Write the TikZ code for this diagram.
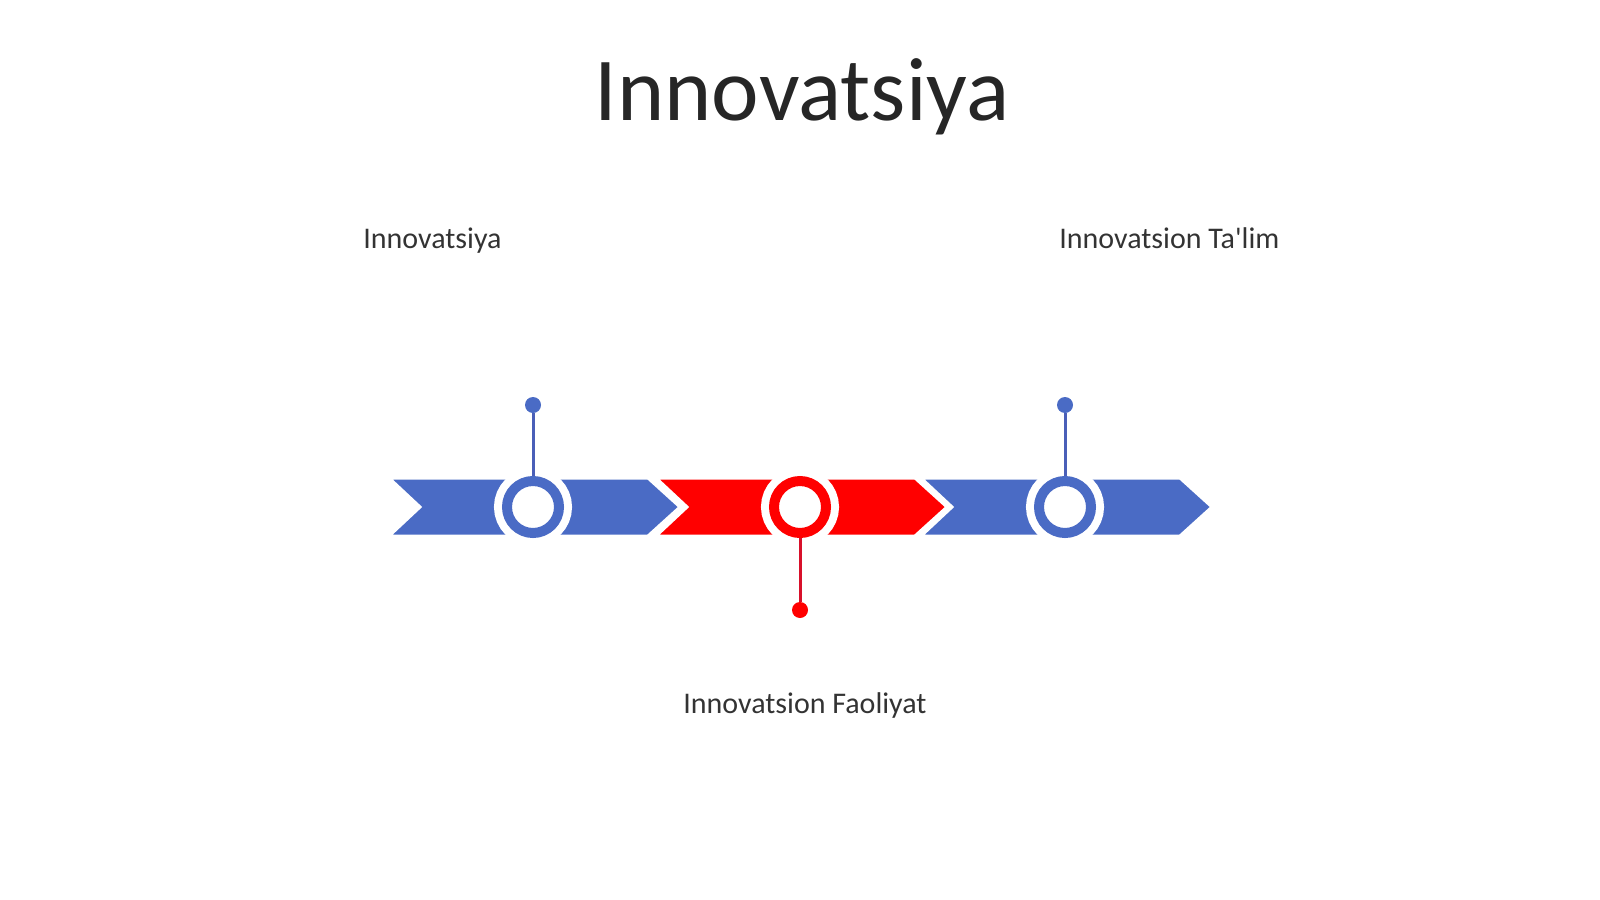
\documentclass[tikz,border=0pt]{standalone}
\usepackage{fontspec}
\setmainfont{Carlito}
\usetikzlibrary{positioning}
\definecolor{stepBlue}{HTML}{4A6BC5}
\definecolor{stepRed}{HTML}{FF0000}
\definecolor{pinBlue}{HTML}{4A5FB8}
\definecolor{pinRed}{HTML}{D8102A}
\definecolor{textGrey}{HTML}{333333}
\definecolor{titleGrey}{HTML}{262626}

\begin{document}
\begin{tikzpicture}
[x=0.5pt,y=-0.5pt,
  chevronShape/.style={draw=white,line width=1.5pt,line join=miter},%
  ringNode/.style={circle,inner sep=0pt,minimum size=26pt,fill=white,
    line width=5pt,preaction={draw=white,line width=13pt}},%
  pinDot/.style={circle,inner sep=0pt,minimum size=8pt},%
  pinLine/.style={-,line width=1.5pt},%
  labelText/.style={inner sep=0pt,text=textGrey,font=\fontsize{15}{18}\selectfont}]
\useasboundingbox (0,0) rectangle (1600,899);
%% title
\node (title) at (802,120) [anchor=base,inner sep=0pt,text=titleGrey,
  font=\fontsize{45}{54}\selectfont] {Innovatsiya};
%% chevrons
\foreach \c/\col in {533/stepBlue, 800/stepRed, 1065/stepBlue}
{
  \filldraw[chevronShape,fill=\col] (\c-144,478) -- (\c+115,478) -- (\c+147,507)
    -- (\c+115,536) -- (\c-144,536) -- (\c-113,507) -- cycle;
}
%% rings and pins
\foreach \ringname/\col/\x/\ypin in {
  ringA/stepBlue/533/405, ringB/stepRed/800/610, ringC/stepBlue/1065/405}
{
  \node (\ringname) at (\x,507) [ringNode,draw=\col] {};
  \node (\ringname pin) at (\x,\ypin) [pinDot,fill=\col] {};
}
\draw[pinLine,pinBlue] (ringApin) -- (ringA);
\draw[pinLine,pinRed] (ringBpin) -- (ringB);
\draw[pinLine,pinBlue] (ringCpin) -- (ringC);
%% labels
\node (labelA) at (363,248) [labelText,anchor=base west] {Innovatsiya};
\node (labelC) at (1059,248) [labelText,anchor=base west] {Innovatsion Ta\textquotesingle lim};
\node (labelB) at (683,713) [labelText,anchor=base west] {Innovatsion Faoliyat};
\end{tikzpicture}
\end{document}
